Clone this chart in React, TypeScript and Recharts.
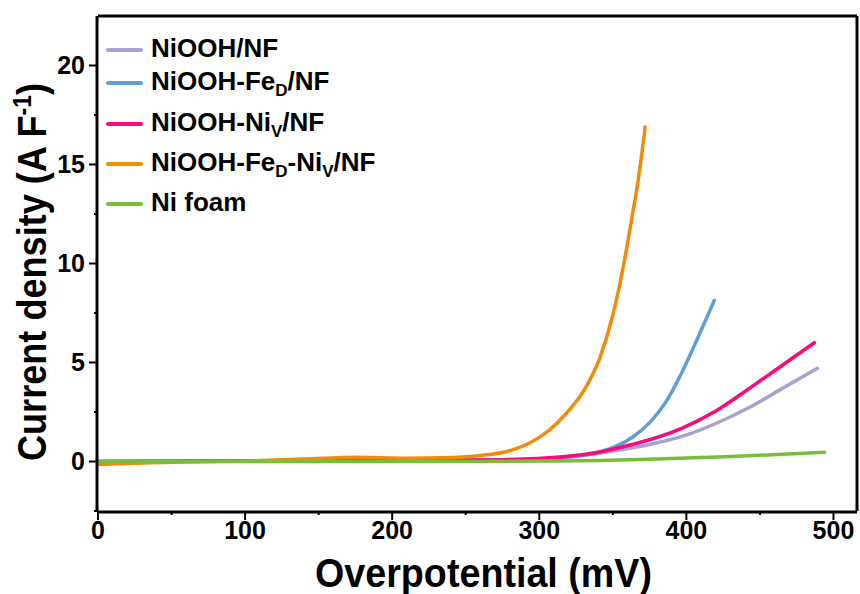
import React from 'react';
import { LineChart, Line, XAxis, YAxis, Legend } from 'recharts';

// overpotential (mV) / current density (A F-1)
const nioohX = [0, 100, 200, 250, 290, 320, 341, 352, 375, 397.6, 420, 443, 465, 489];
const nioohY = [0, 0.02, 0.04, 0.06, 0.1, 0.22, 0.42, 0.55, 0.86, 1.28, 1.92, 2.74, 3.68, 4.7];

const fedX = [0, 100, 200, 250, 290, 320, 341, 352, 363.6, 375.5, 386, 397.6, 409, 419];
const fedY = [0, 0.02, 0.04, 0.06, 0.1, 0.24, 0.48, 0.76, 1.24, 2.0, 3.0, 4.6, 6.45, 8.13];

const nivX = [0, 100, 200, 250, 290, 320, 341, 352, 375, 397.6, 420, 443, 465, 487];
const nivY = [0, 0.02, 0.04, 0.07, 0.12, 0.26, 0.48, 0.66, 1.1, 1.7, 2.55, 3.7, 4.85, 6.0];

const fedNivX = [0, 30, 60, 100, 140, 175, 210, 240, 260, 280, 295, 307, 318, 330, 341, 350, 357, 362.5, 368, 372];
const fedNivY = [-0.15, -0.08, -0.02, 0.03, 0.12, 0.22, 0.17, 0.2, 0.3, 0.55, 1.0, 1.6, 2.4, 3.55, 5.2, 7.4, 9.8, 12.1, 14.6, 16.9];

const foamX = [0, 100, 200, 300, 341, 380, 431, 494];
const foamY = [0, 0, 0, 0.02, 0.05, 0.12, 0.25, 0.47];

const xTicks = [0, 100, 200, 300, 400, 500];
const xMinorTicks = [50, 150, 250, 350, 450];
const yTicks = [0, 5, 10, 15, 20];
const yMinorTicks = [-2.5, 2.5, 7.5, 12.5, 17.5];

const toPoints = (xs: number[], ys: number[]) => xs.map((x, i) => ({ x, y: ys[i] }));

const FONT = '"Liberation Sans", Arial, sans-serif';
const X_DOMAIN: [number, number] = [0, 516];
const Y_DOMAIN: [number, number] = [-2.5, 22.5];

const Sub = ({ children }: { children: React.ReactNode }) => (
  <span style={{ fontSize: 17, position: 'relative', top: 6 }}>{children}</span>
);

const SERIES = [
  { key: 'niooh', label: <>NiOOH/NF</>, color: '#ab9fd4', data: toPoints(nioohX, nioohY) },
  { key: 'fed', label: <>NiOOH-Fe<Sub>D</Sub>/NF</>, color: '#5f9fd8', data: toPoints(fedX, fedY) },
  { key: 'niv', label: <>NiOOH-Ni<Sub>V</Sub>/NF</>, color: '#fb0a7d', data: toPoints(nivX, nivY) },
  { key: 'fedniv', label: <>NiOOH-Fe<Sub>D</Sub>-Ni<Sub>V</Sub>/NF</>, color: '#f38a0c', data: toPoints(fedNivX, fedNivY) },
  { key: 'foam', label: <>Ni foam</>, color: '#78be38', data: toPoints(foamX, foamY) },
];

const rowTops = [0, 33, 74, 114, 154];

const renderLegend = () => (
  <div style={{ position: 'relative', width: 320, height: 200, fontFamily: FONT, fontWeight: 'bold', fontSize: 26, color: '#000' }}>
    {SERIES.map((s, i) => (
      <div key={s.key} style={{ position: 'absolute', left: 0, top: rowTops[i], height: 40, display: 'flex', alignItems: 'center', whiteSpace: 'nowrap' }}>
        <div style={{ width: 37, height: 4, borderRadius: 2, background: s.color, marginRight: 8 }} />
        <span style={{ position: 'relative', top: -2 }}>{s.label}</span>
      </div>
    ))}
  </div>
);

const XTitle = (props: any) => {
  const { viewBox } = props;
  return (
    <text x={viewBox.x + viewBox.width / 2 + 6} y={587} textAnchor="middle" fontFamily={FONT} fontWeight="bold"
      fontSize={40} textLength={337} lengthAdjust="spacingAndGlyphs" fill="#000">
      Overpotential (mV)
    </text>
  );
};

const YTitle = () => (
  <text x={46} y={272} transform="rotate(-90 46 272)" textAnchor="middle" fontFamily={FONT} fontWeight="bold"
    fontSize={41} textLength={378} lengthAdjust="spacingAndGlyphs" fill="#000">
    <tspan>Current density (A F</tspan>
    <tspan fontSize={26} baselineShift="super">-1</tspan>
    <tspan>)</tspan>
  </text>
);

const tickStyle = { fill: '#000', fontSize: 25, fontWeight: 'bold', fontFamily: FONT };
const frame = { stroke: '#000', strokeWidth: 3 };
const tickLine = { stroke: '#000', strokeWidth: 2 };
const noLabel = { fontSize: 0 };

export default function App() {
  return (
    <div style={{ position: 'absolute', left: 0, top: 0, background: '#fff' }}>
      <LineChart width={860} height={594} margin={{ top: 15, right: 2, bottom: 0, left: 0 }}>
        <XAxis xAxisId="main" type="number" dataKey="x" domain={X_DOMAIN} allowDataOverflow ticks={xTicks}
          tickSize={8} tickMargin={1} height={82} axisLine={frame} tickLine={tickLine} tick={tickStyle}
          label={{ content: (p: any) => <XTitle {...p} /> }} />
        <XAxis xAxisId="aminor" type="number" dataKey="x" domain={X_DOMAIN} allowDataOverflow ticks={xMinorTicks}
          tickSize={4} tickLine={tickLine} axisLine={false} tick={noLabel} tickFormatter={() => ''} height={1} />
        <XAxis xAxisId="top" orientation="top" type="number" domain={X_DOMAIN} allowDataOverflow height={1}
          tick={false} tickLine={false} axisLine={frame} />
        <YAxis yAxisId="main" type="number" domain={Y_DOMAIN} allowDataOverflow ticks={yTicks}
          tickSize={8} tickMargin={4} width={97} axisLine={frame} tickLine={tickLine} tick={tickStyle}
          label={{ content: () => <YTitle /> }} />
        <YAxis yAxisId="aminor" type="number" domain={Y_DOMAIN} allowDataOverflow ticks={yMinorTicks}
          tickSize={4} tickLine={tickLine} axisLine={false} tick={noLabel} tickFormatter={() => ''} width={1} />
        <YAxis yAxisId="right" orientation="right" type="number" domain={Y_DOMAIN} allowDataOverflow width={1}
          tick={false} tickLine={false} axisLine={frame} />
        <Legend content={renderLegend} layout="horizontal" verticalAlign="middle" align="center"
          wrapperStyle={{ top: 30, left: 106, width: 320, height: 200 }} />
        {SERIES.map((s) => (
          <Line key={s.key} xAxisId="main" yAxisId="main" data={s.data} dataKey="y" type="monotone"
            stroke={s.color} strokeWidth={3.5} strokeLinecap="round" dot={false} activeDot={false}
            isAnimationActive={false} legendType="none" />
        ))}
      </LineChart>
    </div>
  );
}
